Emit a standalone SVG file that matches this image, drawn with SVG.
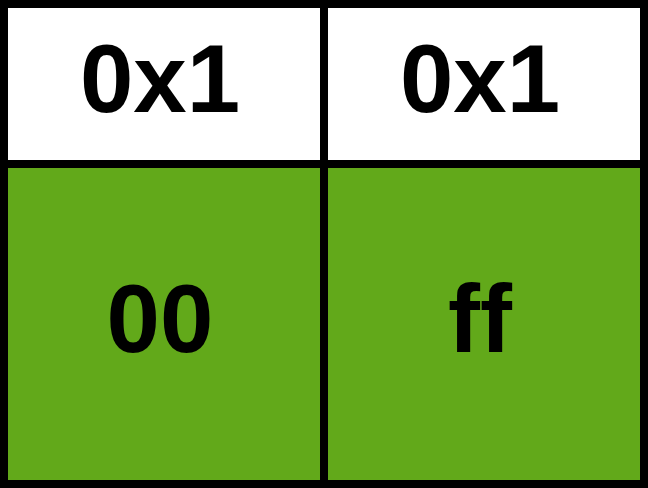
<svg xmlns="http://www.w3.org/2000/svg" width="648" height="488" viewBox="0 0 648 488">
<style>
.lbl{font-family:"Liberation Sans",Arial,sans-serif;font-weight:bold;font-size:96px;fill:#000;text-anchor:middle}
.w{fill:#fff}
.g{fill:#62a91a}
</style>
<rect x="0" y="0" width="648" height="488" fill="#000"/>
<g id="cell-top-left"><rect class="w" x="8" y="8" width="312" height="152"/><text class="lbl" x="160" y="112">0x1</text></g>
<g id="cell-top-right"><rect class="w" x="328" y="8" width="312" height="152"/><text class="lbl" x="480" y="112">0x1</text></g>
<g id="cell-bottom-left"><rect class="g" x="8" y="168" width="312" height="312"/><text class="lbl" x="160" y="352">00</text></g>
<g id="cell-bottom-right"><rect class="g" x="328" y="168" width="312" height="312"/><text class="lbl" x="480" y="352">ff</text></g>
<g id="connectors"/>
</svg>
